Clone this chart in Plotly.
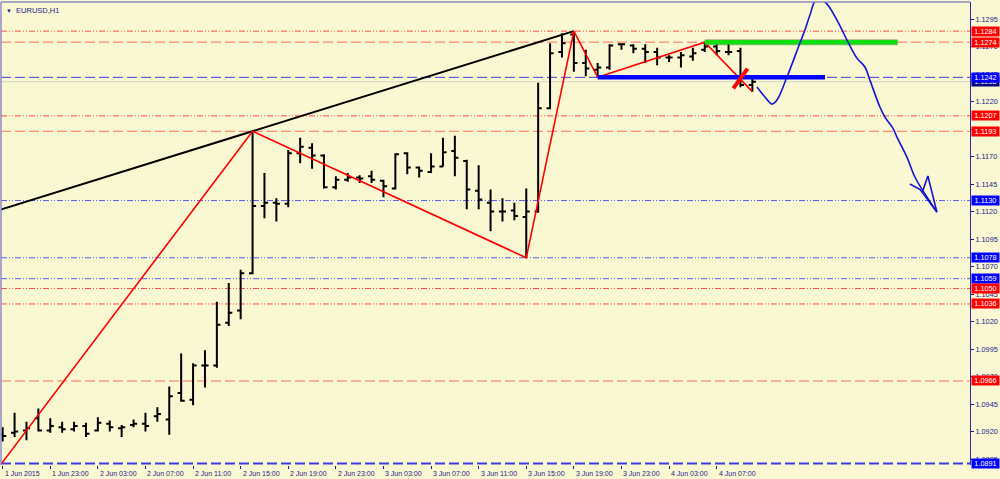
import plotly.graph_objects as go

# ---------------- data ----------------
bar_index = list(range(64))
opens = [1.0917, 1.0919, 1.0921, 1.0932, 1.0921, 1.0924, 1.0922, 1.0925, 1.0921, 1.0927,
         1.0923, 1.0926, 1.0927, 1.0934, 1.0931, 1.0955, 1.0949, 1.0980, 1.0980, 1.1019,
         1.1030, 1.1064, 1.1125, 1.1128, 1.1127, 1.1173, 1.1178, 1.1171, 1.1142, 1.1149,
         1.1151, 1.1152, 1.1148, 1.1141, 1.1173, 1.1160, 1.1156, 1.1161, 1.1175, 1.1166,
         1.1139, 1.1128, 1.1120, 1.1121, 1.1115, 1.1120, 1.1214, 1.1265, 1.1281, 1.1255,
         1.1249, 1.1251, 1.1272, 1.1271, 1.1268, 1.1265, 1.1260, 1.1260, 1.1261, 1.1267,
         1.1270, 1.1265, 1.1266, 1.1235]
highs = [1.0924, 1.0937, 1.0929, 1.0941, 1.0932, 1.0929, 1.0929, 1.0928, 1.0933, 1.0930,
         1.0926, 1.0931, 1.0937, 1.0942, 1.0961, 1.0991, 1.0982, 1.0994, 1.1038, 1.1055,
         1.1067, 1.1193, 1.1155, 1.1132, 1.1176, 1.1187, 1.1182, 1.1172, 1.1152, 1.1155,
         1.1153, 1.1157, 1.1149, 1.1173, 1.1174, 1.1161, 1.1173, 1.1187, 1.1189, 1.1167,
         1.1162, 1.1140, 1.1132, 1.1128, 1.1141, 1.1237, 1.1273, 1.1282, 1.1284, 1.1267,
         1.1255, 1.1272, 1.1273, 1.1272, 1.1272, 1.1269, 1.1262, 1.1265, 1.1269, 1.1274,
         1.1273, 1.1273, 1.1269, 1.1241]
lows = [1.0911, 1.0915, 1.0912, 1.0920, 1.0919, 1.0919, 1.0920, 1.0915, 1.0920, 1.0920,
        1.0915, 1.0924, 1.0920, 1.0929, 1.0917, 1.0947, 1.0944, 1.0960, 1.0978, 1.1016,
        1.1022, 1.1063, 1.1114, 1.1111, 1.1124, 1.1164, 1.1159, 1.1141, 1.1140, 1.1147,
        1.1146, 1.1146, 1.1133, 1.1140, 1.1154, 1.1151, 1.1155, 1.1161, 1.1152, 1.1122,
        1.1122, 1.1102, 1.1111, 1.1112, 1.1078, 1.1119, 1.1213, 1.1260, 1.1247, 1.1243,
        1.1242, 1.1249, 1.1267, 1.1264, 1.1255, 1.1253, 1.1256, 1.1251, 1.1257, 1.1265,
        1.1262, 1.1262, 1.1233, 1.1229]
closes = [1.0916, 1.0920, 1.0923, 1.0921, 1.0925, 1.0922, 1.0925, 1.0918, 1.0928, 1.0924,
          1.0924, 1.0927, 1.0925, 1.0936, 1.0952, 1.0948, 1.0980, 1.0980, 1.1017, 1.1028,
          1.1064, 1.1125, 1.1128, 1.1127, 1.1173, 1.1179, 1.1171, 1.1142, 1.1149, 1.1151,
          1.1150, 1.1149, 1.1143, 1.1172, 1.1160, 1.1157, 1.1161, 1.1174, 1.1169, 1.1140,
          1.1131, 1.1120, 1.1120, 1.1116, 1.1120, 1.1214, 1.1264, 1.1273, 1.1255, 1.1250,
          1.1251, 1.1271, 1.1272, 1.1268, 1.1265, 1.1260, 1.1260, 1.1262, 1.1264, 1.1270,
          1.1266, 1.1265, 1.1235, 1.1238]

time_tick_index = [0, 4, 8, 12, 16, 20, 24, 28, 32, 36, 40, 44, 48, 52, 56, 60]
time_tick_text = ["1 Jun 2015", "1 Jun 23:00", "2 Jun 03:00", "2 Jun 07:00", "2 Jun 11:00",
                  "2 Jun 15:00", "2 Jun 19:00", "2 Jun 23:00", "3 Jun 03:00", "3 Jun 07:00",
                  "3 Jun 11:00", "3 Jun 15:00", "3 Jun 19:00", "3 Jun 23:00", "4 Jun 03:00",
                  "4 Jun 07:00"]

price_ticks = [1.0895, 1.0920, 1.0945, 1.0970, 1.0995, 1.1020, 1.1045, 1.1070, 1.1095,
               1.1120, 1.1145, 1.1170, 1.1195, 1.1220, 1.1245, 1.1270, 1.1295]

levels = [1.1284, 1.1274, 1.1242, 1.1207, 1.1193, 1.1130, 1.1078, 1.1059, 1.1050, 1.1036,
          1.0966, 1.0891]
level_kind = ["red_dd", "red_dash", "blue_dash", "red_dd", "red_dash", "blue_dd", "blue_dd",
              "blue_dd", "red_dd", "red_dd", "red_dash", "blue_dash"]

bid_price = 1.1238

zigzag_x = [-1, 21, 44, 48, 50, 59, 63]
zigzag_y = [1.0878, 1.1193, 1.1078, 1.1284, 1.1242, 1.1274, 1.1229]

trend_x = [-1, 48]
trend_y = [1.1119, 1.1284]

green_x = [59, 75.2]
green_y = [1.1274, 1.1274]
blue_x = [50, 69.1]
blue_y = [1.1242, 1.1242]

slash_x = [61.4, 62.6]
slash_y = [1.1232, 1.1250]

curve_x = [63.39, 64.06, 64.64, 65.07, 65.91, 67.0, 67.42, 67.84, 68.35, 69.1, 70.11, 70.95,
           71.79, 72.46, 72.88, 73.72, 74.14, 74.81, 75.15, 75.99, 76.66, 77.67, 78.51]
curve_y = [1.12332, 1.12241, 1.12177, 1.12214, 1.12423, 1.12732, 1.1285, 1.12986, 1.13123,
           1.13105, 1.12941, 1.12759, 1.12595, 1.12514, 1.12395, 1.1215, 1.12059, 1.11959,
           1.11877, 1.11695, 1.11514, 1.11332, 1.11195]
head_x = [76.24, 77.1, 78.51, 77.75, 77.3]
head_y = [1.1145, 1.1140, 1.11195, 1.11523, 1.1138]

# ---------------- styling ----------------
BG = "#F9F8D3"
NAVY = "#1C1C8C"
FONT = "Liberation Sans"
style_map = {
    "red_dd": dict(color="#FF4A4A", dash="6px,2px,1px,2px,1px,2px", width=1),
    "red_dash": dict(color="#FF6E5E", dash="10px,4px", width=1),
    "blue_dd": dict(color="#5A5AF0", dash="6px,2px,1px,2px,1px,2px", width=1),
    "blue_dash": dict(color="#3C3CE6", dash="10px,4px", width=1),
}
label_bg = {"red_dd": "#FF0000", "red_dash": "#FF0000", "blue_dd": "#0000FF", "blue_dash": "#0000FF"}

fig = go.Figure()

shapes = []
# bid line
shapes.append(dict(type="line", xref="paper", x0=0, x1=1, yref="y", y0=bid_price, y1=bid_price,
                   line=dict(color="#D2D2C4", width=1), layer="below"))
for lv, kind in zip(levels, level_kind):
    st = style_map[kind]
    w = 2 if lv == levels[-1] else st["width"]
    shapes.append(dict(type="line", xref="paper", x0=0, x1=1, yref="y", y0=lv, y1=lv,
                       line=dict(color=st["color"], dash=st["dash"], width=w), layer="below"))
# frame left & top
shapes.append(dict(type="line", xref="paper", yref="paper", x0=0, x1=0, y0=0, y1=1,
                   line=dict(color="#8C8CC8", width=1.5)))
shapes.append(dict(type="line", xref="paper", yref="paper", x0=0, x1=1, y0=1, y1=1,
                   line=dict(color="#8C8CC8", width=1.5)))

fig.add_trace(go.Ohlc(x=bar_index, open=opens, high=highs, low=lows, close=closes,
                      increasing=dict(line=dict(color="black", width=2)),
                      decreasing=dict(line=dict(color="black", width=2)),
                      tickwidth=0.3, showlegend=False, hoverinfo="skip"))

fig.add_trace(go.Scatter(x=trend_x, y=trend_y, mode="lines",
                         line=dict(color="black", width=2), showlegend=False, hoverinfo="skip"))
fig.add_trace(go.Scatter(x=zigzag_x, y=zigzag_y, mode="lines",
                         line=dict(color="#FF0000", width=1.6), showlegend=False, hoverinfo="skip"))
fig.add_trace(go.Scatter(x=green_x, y=green_y, mode="lines",
                         line=dict(color="#556B55", width=6), opacity=0.5, showlegend=False, hoverinfo="skip"))
fig.add_trace(go.Scatter(x=green_x, y=green_y, mode="lines",
                         line=dict(color="#10E010", width=4.5), showlegend=False, hoverinfo="skip"))
fig.add_trace(go.Scatter(x=blue_x, y=blue_y, mode="lines",
                         line=dict(color="#0000FF", width=4.5), showlegend=False, hoverinfo="skip"))
fig.add_trace(go.Scatter(x=slash_x, y=slash_y, mode="lines",
                         line=dict(color="#FF0000", width=4), showlegend=False, hoverinfo="skip"))
fig.add_trace(go.Scatter(x=curve_x, y=curve_y, mode="lines", line_shape="spline",
                         line=dict(color="#1414D8", width=1.6), showlegend=False, hoverinfo="skip"))
fig.add_trace(go.Scatter(x=head_x, y=head_y, mode="lines",
                         line=dict(color="#1414D8", width=1.6), showlegend=False, hoverinfo="skip"))

annotations = []
# bid label (drawn first, below)
annotations.append(dict(xref="paper", x=1, xanchor="left", xshift=1, yref="y", y=bid_price,
                        text=f"{bid_price:.4f}", showarrow=False, bgcolor="#00007A",
                        font=dict(family=FONT, size=7.3, color="white"), borderpad=0, width=27, height=9))
for lv, kind in zip(levels, level_kind):
    annotations.append(dict(xref="paper", x=1, xanchor="left", xshift=1, yref="y", y=lv,
                            text=f"{lv:.4f}", showarrow=False, bgcolor=label_bg[kind],
                            font=dict(family=FONT, size=7.3, color="white"), borderpad=0,
                            width=27, height=9))
for ti, tt in zip(time_tick_index, time_tick_text):
    annotations.append(dict(xref="x", x=ti, xanchor="left", xshift=0, yref="paper", y=0,
                            yanchor="top", yshift=-3, text=tt, showarrow=False,
                            font=dict(family=FONT, size=7, color=NAVY)))
annotations.append(dict(xref="paper", x=0, xanchor="left", xshift=3, yref="paper", y=1,
                        yanchor="top", yshift=-2,
                        text="<span style='font-size:6px'>▼</span>  EURUSD,H1", showarrow=False,
                        font=dict(family=FONT, size=7.5, color=NAVY)))

fig.update_layout(
    width=1000, height=479, autosize=False,
    margin=dict(l=1, r=30, t=2, b=14, pad=0),
    paper_bgcolor=BG, plot_bgcolor=BG,
    shapes=shapes, annotations=annotations, showlegend=False,
    xaxis=dict(range=[-0.14, 81.29], rangeslider=dict(visible=False), showgrid=False,
               zeroline=False, showline=False, tickmode="array", tickvals=time_tick_index,
               showticklabels=False, ticks="outside", ticklen=3, tickcolor=NAVY),
    yaxis=dict(range=[1.08896, 1.13105], side="right", showgrid=False, zeroline=False,
               showline=True, linecolor="#2A2AA0", linewidth=1,
               tickmode="array", tickvals=price_ticks, ticktext=[f"{v:.4f}" for v in price_ticks],
               ticks="outside", ticklen=3, tickcolor=NAVY,
               tickfont=dict(family=FONT, size=7.3, color=NAVY)),
)

fig.write_html("out.html", config={"displayModeBar": False},
               post_script="document.body.style.margin='0';")
